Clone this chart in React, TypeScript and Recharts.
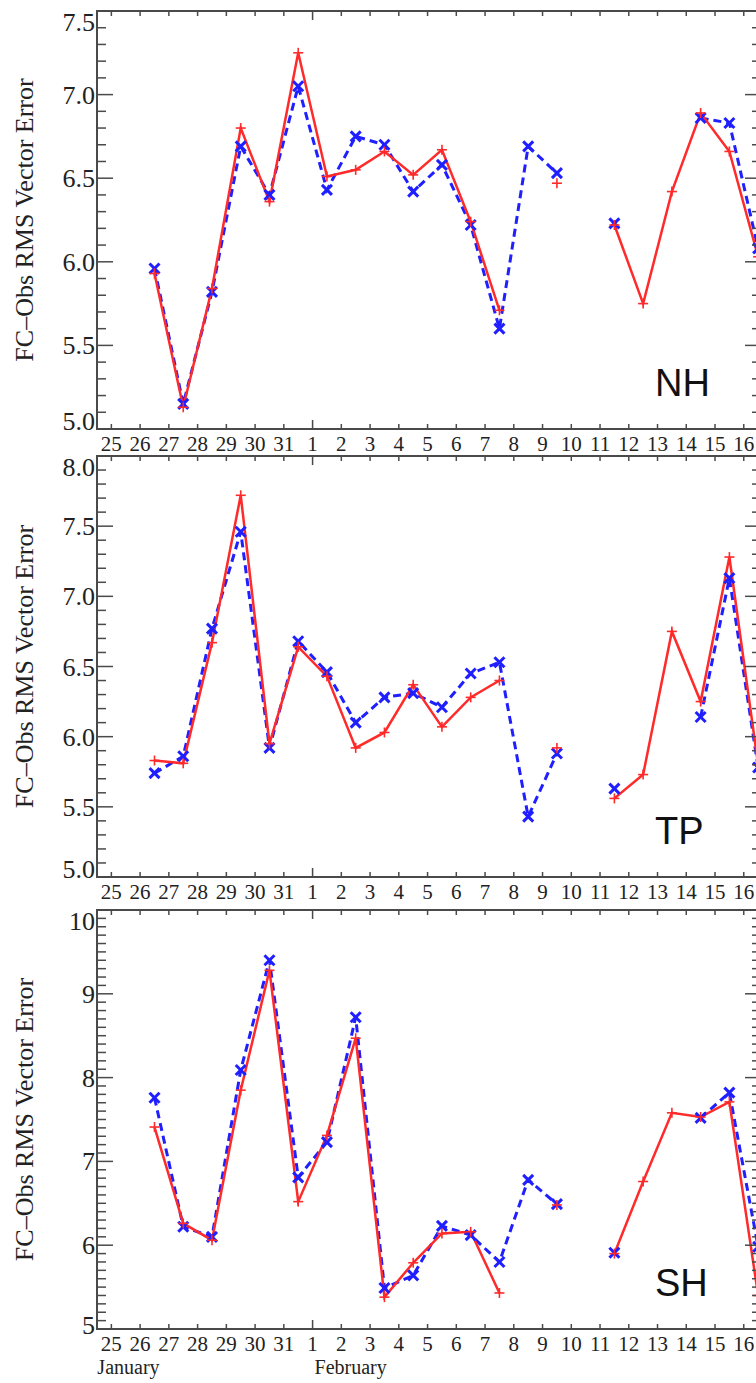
import { LineChart, Line, XAxis, YAxis, ReferenceArea } from 'recharts'

// day axis: Jan 25 = 0 ... Jan 31 = 6, Feb 1 = 7 ... Feb 16 = 22
const dayTicks = [0, 1, 2, 3, 4, 5, 6, 7, 8, 9, 10, 11, 12, 13, 14, 15, 16, 17, 18, 19, 20, 21, 22]
const dayLabels = ['25', '26', '27', '28', '29', '30', '31', '1', '2', '3', '4', '5', '6', '7', '8', '9', '10', '11', '12', '13', '14', '15', '16']

// forecasts are valid at mid-day
const pointX = [1.5, 2.5, 3.5, 4.5, 5.5, 6.5, 7.5, 8.5, 9.5, 10.5, 11.5, 12.5, 13.5, 14.5, 15.5, 16.5, 17.5, 18.5, 19.5, 20.5, 21.5, 22.5]

const nhRed = [5.93, 5.13, 5.84, 6.80, 6.36, 7.25, 6.51, 6.55, 6.66, 6.52, 6.67, 6.24, 5.71, null, 6.47, null, 6.22, 5.75, 6.42, 6.89, 6.66, 6.03]
const nhBlue = [5.96, 5.15, 5.82, 6.69, 6.40, 7.05, 6.43, 6.75, 6.70, 6.42, 6.58, 6.22, 5.60, 6.69, 6.53, null, 6.23, null, null, 6.86, 6.83, 6.08]

const tpRed = [5.83, 5.81, 6.67, 7.72, 5.95, 6.64, 6.43, 5.92, 6.03, 6.37, 6.07, 6.28, 6.40, null, 5.92, null, 5.56, 5.73, 6.75, 6.25, 7.28, 5.80]
const tpBlue = [5.74, 5.86, 6.77, 7.46, 5.92, 6.68, 6.46, 6.10, 6.28, 6.31, 6.21, 6.45, 6.53, 5.43, 5.88, null, 5.63, null, null, 6.14, 7.13, 5.78]

const shRed = [7.41, 6.26, 6.06, 7.85, 9.28, 6.52, 7.31, 8.47, 5.38, 5.79, 6.14, 6.16, 5.43, null, 6.48, null, 5.90, 6.76, 7.58, 7.53, 7.71, 5.40]
const shBlue = [7.76, 6.22, 6.10, 8.09, 9.40, 6.81, 7.23, 8.72, 5.49, 5.64, 6.23, 6.12, 5.80, 6.78, 6.49, null, 5.91, null, null, 7.52, 7.82, 5.98]

const nhMajor = [5.0, 5.5, 6.0, 6.5, 7.0, 7.5]
const tpMajor = [5.0, 5.5, 6.0, 6.5, 7.0, 7.5, 8.0]
const shMajor = [5, 6, 7, 8, 9, 10]

const CHART_W = 800
const PLOT_LEFT = 97
const PLOT_RIGHT = 761
const X_DOMAIN: [number, number] = [-0.5, 22.6]
const RED = '#ff2a2a'
const BLUE = '#1f1fff'
const AXIS = '#4a4a4a'
const SERIF = '"Liberation Serif", "Times New Roman", serif'
const SANS = '"Liberation Sans", Arial, sans-serif'

interface Panel {
  name: string
  top: number
  marginTop: number
  plotHeight: number
  axisHeight: number
  domain: [number, number]
  major: number[]
  minorStep: number
  decimals: number
  red: (number | null)[]
  blue: (number | null)[]
  months: boolean
}

const panels: Panel[] = [
  { name: 'NH', top: 0, marginTop: 11, plotHeight: 418, axisHeight: 28, domain: [5, 7.5], major: nhMajor, minorStep: 0.1, decimals: 1, red: nhRed, blue: nhBlue, months: false },
  { name: 'TP', top: 450, marginTop: 6, plotHeight: 421, axisHeight: 28, domain: [5, 8], major: tpMajor, minorStep: 0.1, decimals: 1, red: tpRed, blue: tpBlue, months: false },
  { name: 'SH', top: 904, marginTop: 6, plotHeight: 419, axisHeight: 56, domain: [5, 10], major: shMajor, minorStep: 0.1, decimals: 0, red: shRed, blue: shBlue, months: true },
]

function minorTicks(lo: number, hi: number, step: number) {
  const out: number[] = []
  const n = Math.round((hi - lo) / step)
  for (let i = 0; i <= n; i++) out.push(+(lo + i * step).toFixed(3))
  return out
}

function PlusDot(props: any) {
  const { cx, cy, value, index } = props
  if (value == null || cy == null || cx == null) return <g key={`r${index}`} />
  return (
    <g key={`r${index}`} stroke={RED} strokeWidth={1.6}>
      <line x1={cx - 5} y1={cy} x2={cx + 5} y2={cy} />
      <line x1={cx} y1={cy - 5} x2={cx} y2={cy + 5} />
    </g>
  )
}

function CrossDot(props: any) {
  const { cx, cy, value, index } = props
  if (value == null || cy == null || cx == null) return <g key={`b${index}`} />
  return (
    <g key={`b${index}`} stroke={BLUE} strokeWidth={3}>
      <line x1={cx - 5} y1={cy - 5} x2={cx + 5} y2={cy + 5} />
      <line x1={cx - 5} y1={cy + 5} x2={cx + 5} y2={cy - 5} />
    </g>
  )
}

const serifText = (size: number) => ({ fontFamily: SERIF, fontSize: size, fill: '#222' })

function PanelChart({ p }: { p: Panel }) {
  const data = pointX.map((x, i) => ({ x, red: p.red[i], blue: p.blue[i] }))
  const height = p.marginTop + p.plotHeight + p.axisHeight
  const plotTop = p.marginTop
  const ticks = minorTicks(p.domain[0], p.domain[1], p.minorStep)
  const isMajor = (v: number) => p.major.some((m) => Math.abs(m - v) < 1e-6)

  const yTick = (props: any) => {
    const { x, y, payload } = props
    const v = payload.value as number
    const major = isMajor(v)
    const len = major ? 16 : 9
    let shift = 0
    if (Math.abs(v - p.domain[1]) < 1e-6) shift = 11
    if (Math.abs(v - p.domain[0]) < 1e-6) shift = p.decimals ? -8 : -4
    return (
      <g>
        <line x1={x} y1={y} x2={x + len} y2={y} stroke={AXIS} strokeWidth={1.5} />
        <line x1={PLOT_RIGHT} y1={y} x2={PLOT_RIGHT - len} y2={y} stroke={AXIS} strokeWidth={1.5} />
        {major && (
          <text x={x - 2} y={y + shift + 9} textAnchor="end" style={serifText(26)}>
            {v.toFixed(p.decimals)}
          </text>
        )}
      </g>
    )
  }

  const xTick = (props: any) => {
    const { x, y, payload } = props
    const v = payload.value as number
    const len = v === 7 ? 9 : 5
    return (
      <g>
        <line x1={x} y1={y} x2={x} y2={y - len} stroke={AXIS} strokeWidth={1.5} />
        <line x1={x} y1={plotTop} x2={x} y2={plotTop + len} stroke={AXIS} strokeWidth={1.5} />
        <text x={x} y={y + 22} textAnchor="middle" style={serifText(21)}>
          {dayLabels[v]}
        </text>
        {p.months && v === 0 && (
          <text x={x - 14} y={y + 45} textAnchor="start" style={serifText(20)}>January</text>
        )}
        {p.months && v === 7 && (
          <text x={x + 2} y={y + 45} textAnchor="start" style={serifText(20)}>February</text>
        )}
      </g>
    )
  }

  return (
    <div style={{ position: 'absolute', left: 0, top: p.top }}>
      <LineChart
        width={CHART_W}
        height={height}
        data={data}
        margin={{ top: p.marginTop, right: CHART_W - PLOT_RIGHT, bottom: 0, left: 0 }}
      >
        <XAxis
          type="number"
          dataKey="x"
          domain={X_DOMAIN}
          ticks={dayTicks}
          allowDataOverflow
          interval={0}
          height={p.axisHeight}
          tickSize={0}
          tickMargin={0}
          tickLine={false}
          axisLine={false}
          tick={xTick}
        />
        <YAxis
          type="number"
          domain={p.domain}
          ticks={ticks}
          allowDataOverflow
          interval={0}
          width={PLOT_LEFT}
          tickSize={0}
          tickMargin={0}
          tickLine={false}
          axisLine={false}
          tick={yTick}
          label={{
            content: (lp: any) => {
              const vb = lp.viewBox || {}
              const cy = (vb.y ?? plotTop) + (vb.height ?? p.plotHeight) / 2
              return (
                <text
                  x={33}
                  y={cy}
                  transform={`rotate(-90 33 ${cy})`}
                  textAnchor="middle"
                  style={serifText(26)}
                >
                  FC–Obs RMS Vector Error
                </text>
              )
            },
          }}
        />
        <ReferenceArea
          x1={X_DOMAIN[0]}
          x2={X_DOMAIN[1]}
          y1={p.domain[0]}
          y2={p.domain[1]}
          fill="none"
          fillOpacity={0}
          stroke={AXIS}
          strokeWidth={2}
          ifOverflow="visible"
          label={{
            content: (lp: any) => {
              const vb = lp.viewBox || {}
              const bottom = (vb.y ?? plotTop) + (vb.height ?? p.plotHeight)
              return (
                <text x={655} y={bottom - 33} style={{ fontFamily: SANS, fontSize: 38, fill: '#111' }}>
                  {p.name}
                </text>
              )
            },
          }}
        />
        <Line
          type="linear"
          dataKey="blue"
          stroke={BLUE}
          strokeWidth={3}
          strokeDasharray="8 5"
          dot={CrossDot}
          activeDot={false}
          connectNulls={false}
          isAnimationActive={false}
        />
        <Line
          type="linear"
          dataKey="red"
          stroke={RED}
          strokeWidth={2.5}
          dot={PlusDot}
          activeDot={false}
          connectNulls={false}
          isAnimationActive={false}
        />
      </LineChart>
    </div>
  )
}

export default function App() {
  return (
    <div
      style={{
        position: 'absolute',
        left: 0,
        top: 0,
        width: 756,
        height: 1383,
        overflow: 'hidden',
        background: '#fff',
      }}
    >
      {panels.map((p) => (
        <PanelChart key={p.name} p={p} />
      ))}
    </div>
  )
}
